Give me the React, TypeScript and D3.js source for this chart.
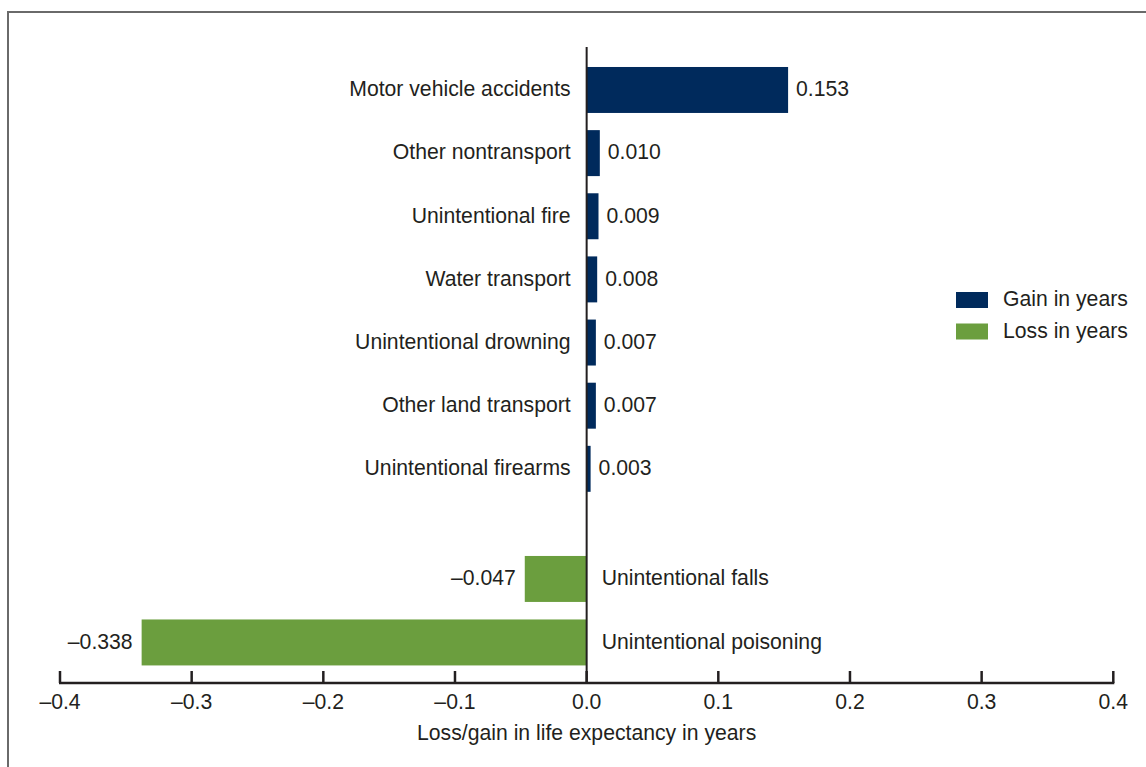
import React from "react";
import * as d3 from "d3";

const gainCategories = [
  "Motor vehicle accidents",
  "Other nontransport",
  "Unintentional fire",
  "Water transport",
  "Unintentional drowning",
  "Other land transport",
  "Unintentional firearms",
];
const gainValues = [0.153, 0.01, 0.009, 0.008, 0.007, 0.007, 0.003];
const lossCategories = ["Unintentional falls", "Unintentional poisoning"];
const lossValues = [-0.047, -0.338];
const xTicks = [-0.4, -0.3, -0.2, -0.1, 0.0, 0.1, 0.2, 0.3, 0.4];
const legendLabels = ["Gain in years", "Loss in years"];
const xTitle = "Loss/gain in life expectancy in years";

const W = 1146;
const H = 767;
const GAIN = "#002a5c";
const LOSS = "#6b9e3e";
const TEXT = "#231f20";
const FONT = "Liberation Sans, Arial, Helvetica, sans-serif";
const FS = 21.2;

const fmt = (v: number) => (v < 0 ? "\u2013" : "") + Math.abs(v).toFixed(3);
const fmtTick = (v: number) => (v < 0 ? "\u2013" : "") + Math.abs(v).toFixed(1);

export default function App() {
  const x = d3.scaleLinear().domain([-0.4, 0.4]).range([60, 1113.3]);
  const gainY = d3
    .scaleBand<string>()
    .domain(gainCategories)
    .range([58.4, 500.4])
    .paddingInner(0.272)
    .paddingOuter(0.136);
  const lossY = d3
    .scaleBand<string>()
    .domain(lossCategories)
    .range([547.2, 674.2])
    .paddingInner(0.276)
    .paddingOuter(0.138);
  const x0 = x(0);
  const axisY = 683;
  const DY = "0.3em";

  return (
    <svg
      width={W}
      height={H}
      style={{ position: "absolute", left: 0, top: 0 }}
      fontFamily={FONT}
    >
      <rect x={0} y={0} width={W} height={H} fill="#fff" />
      <rect x={8} y={12} width={1200} height={800} fill="none" stroke="#6a6a6a" strokeWidth={2} />

      {gainCategories.map((c, i) => {
        const v = gainValues[i];
        const yb = gainY(c)!;
        const bw = gainY.bandwidth();
        return (
          <g key={c}>
            <rect x={x0} y={yb} width={x(v) - x0} height={bw} fill={GAIN} />
            <text
              x={x0 - 16}
              y={yb + bw / 2}
              dy={DY}
              textAnchor="end"
              fontSize={FS}
              fill={TEXT}
            >
              {c}
            </text>
            <text x={x(v) + 8} y={yb + bw / 2} dy={DY} fontSize={FS} fill={TEXT}>
              {fmt(v)}
            </text>
          </g>
        );
      })}

      {lossCategories.map((c, i) => {
        const v = lossValues[i];
        const yb = lossY(c)!;
        const bw = lossY.bandwidth();
        return (
          <g key={c}>
            <rect x={x(v)} y={yb} width={x0 - x(v)} height={bw} fill={LOSS} />
            <text x={x0 + 15} y={yb + bw / 2} dy={DY} fontSize={FS} fill={TEXT}>
              {c}
            </text>
            <text
              x={x(v) - 9}
              y={yb + bw / 2}
              dy={DY}
              textAnchor="end"
              fontSize={FS}
              fill={TEXT}
            >
              {fmt(v)}
            </text>
          </g>
        );
      })}

      <line x1={x0} x2={x0} y1={47} y2={axisY} stroke={TEXT} strokeWidth={2} />

      <line x1={x(-0.4) - 1} x2={x(0.4) + 1} y1={axisY} y2={axisY} stroke={TEXT} strokeWidth={2.5} />
      {xTicks.map((t) => (
        <g key={t}>
          <line x1={x(t)} x2={x(t)} y1={axisY - 12} y2={axisY} stroke={TEXT} strokeWidth={2.5} />
          <text x={x(t)} y={703} dy={DY} textAnchor="middle" fontSize={FS} fill={TEXT}>
            {fmtTick(t)}
          </text>
        </g>
      ))}
      <text x={x0} y={734} dy={DY} textAnchor="middle" fontSize={FS} fill={TEXT}>
        {xTitle}
      </text>

      {legendLabels.map((l, i) => (
        <g key={l} transform={`translate(956, ${292 + i * 31.5})`}>
          <rect x={0} y={0} width={32} height={16} fill={i === 0 ? GAIN : LOSS} />
          <text x={47} y={8} dy={DY} fontSize={FS} fill={TEXT}>
            {l}
          </text>
        </g>
      ))}
    </svg>
  );
}
